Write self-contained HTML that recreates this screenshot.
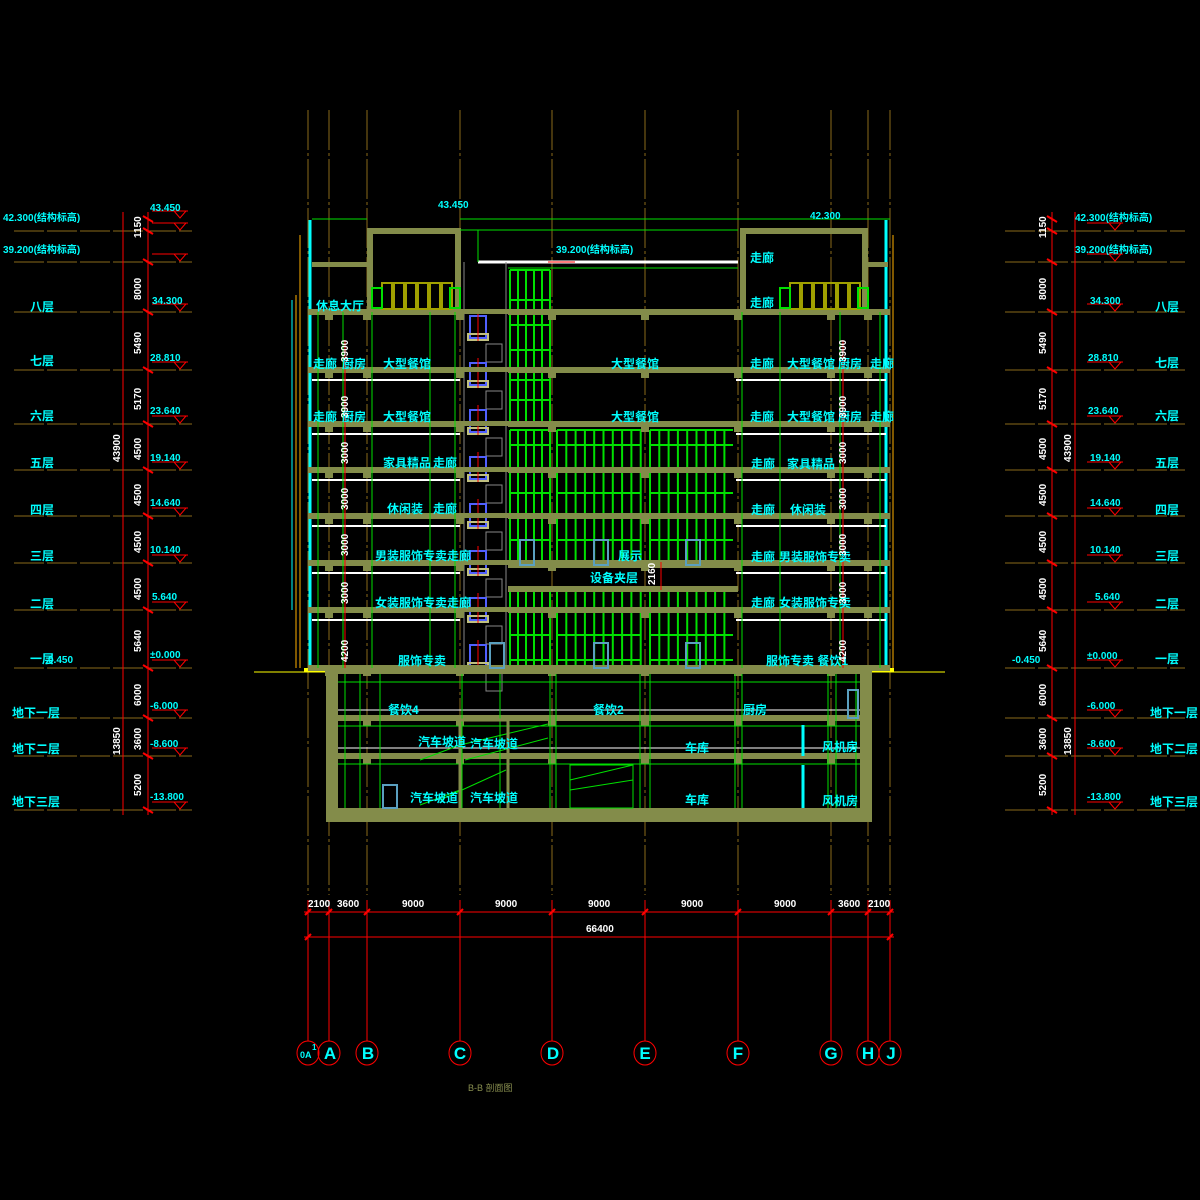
<!DOCTYPE html>
<html><head><meta charset="utf-8"><style>
html,body{margin:0;padding:0;background:#000;}
svg{display:block}
text{font-family:"Liberation Sans","Noto Sans CJK SC",sans-serif;font-weight:bold}
.c{fill:#00ffff;font-size:12px}
.w{fill:#fff;font-size:10px}
.cs{fill:#00ffff;font-size:10px}
</style></head><body>
<svg id="s" width="1200" height="1200" viewBox="0 0 1200 1200" xmlns="http://www.w3.org/2000/svg">
<rect width="1200" height="1200" fill="#000"/>
<g id="gen"></g>
<!-- left side labels -->
<text class="cs" x="150" y="211">43.450</text>
<text class="cs" x="3" y="221">42.300(结构标高)</text>
<text class="cs" x="3" y="253">39.200(结构标高)</text>
<text class="cs" x="152" y="304">34.300</text><text class="c" x="30" y="311">八层</text>
<text class="cs" x="150" y="361">28.810</text><text class="c" x="30" y="365">七层</text>
<text class="cs" x="150" y="414">23.640</text><text class="c" x="30" y="420">六层</text>
<text class="cs" x="150" y="461">19.140</text><text class="c" x="30" y="467">五层</text>
<text class="cs" x="150" y="506">14.640</text><text class="c" x="30" y="514">四层</text>
<text class="cs" x="150" y="553">10.140</text><text class="c" x="30" y="560">三层</text>
<text class="cs" x="152" y="600">5.640</text><text class="c" x="30" y="608">二层</text>
<text class="cs" x="150" y="658">±0.000</text><text class="c" x="30" y="663">一层</text><text class="cs" x="48" y="663">0.450</text>
<text class="cs" x="150" y="709">-6.000</text><text class="c" x="12" y="717">地下一层</text>
<text class="cs" x="150" y="747">-8.600</text><text class="c" x="12" y="753">地下二层</text>
<text class="cs" x="150" y="800">-13.800</text><text class="c" x="12" y="806">地下三层</text>
<!-- right side labels -->
<text class="cs" x="1075" y="221">42.300(结构标高)</text>
<text class="cs" x="1075" y="253">39.200(结构标高)</text>
<text class="cs" x="1090" y="304">34.300</text><text class="c" x="1155" y="311">八层</text>
<text class="cs" x="1088" y="361">28.810</text><text class="c" x="1155" y="367">七层</text>
<text class="cs" x="1088" y="414">23.640</text><text class="c" x="1155" y="420">六层</text>
<text class="cs" x="1090" y="461">19.140</text><text class="c" x="1155" y="467">五层</text>
<text class="cs" x="1090" y="506">14.640</text><text class="c" x="1155" y="514">四层</text>
<text class="cs" x="1090" y="553">10.140</text><text class="c" x="1155" y="560">三层</text>
<text class="cs" x="1095" y="600">5.640</text><text class="c" x="1155" y="608">二层</text>
<text class="cs" x="1087" y="659">±0.000</text><text class="c" x="1155" y="663">一层</text><text class="cs" x="1012" y="663">-0.450</text>
<text class="cs" x="1087" y="709">-6.000</text><text class="c" x="1150" y="717" textLength="48" lengthAdjust="spacingAndGlyphs">地下一层</text>
<text class="cs" x="1087" y="747">-8.600</text><text class="c" x="1150" y="753" textLength="48" lengthAdjust="spacingAndGlyphs">地下二层</text>
<text class="cs" x="1087" y="800">-13.800</text><text class="c" x="1150" y="806" textLength="48" lengthAdjust="spacingAndGlyphs">地下三层</text>
<!-- building labels -->
<text class="cs" x="438" y="208">43.450</text>
<text class="cs" x="810" y="219">42.300</text>
<text class="cs" x="556" y="253">39.200(结构标高)</text>
<text class="c" x="316" y="310">休息大厅</text>
<text class="c" x="313" y="368">走廊</text><text class="c" x="342" y="368">厨房</text><text class="c" x="383" y="368">大型餐馆</text>
<text class="c" x="313" y="421">走廊</text><text class="c" x="342" y="421">厨房</text><text class="c" x="383" y="421">大型餐馆</text>
<text class="c" x="383" y="467">家具精品</text><text class="c" x="433" y="467">走廊</text>
<text class="c" x="387" y="513">休闲装</text><text class="c" x="433" y="513">走廊</text>
<text class="c" x="375" y="560">男装服饰专卖走廊</text>
<text class="c" x="375" y="607">女装服饰专卖走廊</text>
<text class="c" x="398" y="665">服饰专卖</text>
<text class="c" x="611" y="368">大型餐馆</text>
<text class="c" x="611" y="421">大型餐馆</text>
<text class="c" x="618" y="560">展示</text>
<text class="c" x="590" y="582">设备夹层</text>
<text class="c" x="750" y="262">走廊</text><text class="c" x="750" y="307">走廊</text>
<text class="c" x="750" y="368">走廊</text><text class="c" x="787" y="368">大型餐馆</text><text class="c" x="838" y="368">厨房</text><text class="c" x="870" y="368">走廊</text>
<text class="c" x="750" y="421">走廊</text><text class="c" x="787" y="421">大型餐馆</text><text class="c" x="838" y="421">厨房</text><text class="c" x="870" y="421">走廊</text>
<text class="c" x="751" y="468">走廊</text><text class="c" x="787" y="468">家具精品</text>
<text class="c" x="751" y="514">走廊</text><text class="c" x="790" y="514">休闲装</text>
<text class="c" x="751" y="561">走廊</text><text class="c" x="779" y="561">男装服饰专卖</text>
<text class="c" x="751" y="607">走廊</text><text class="c" x="779" y="607">女装服饰专卖</text>
<text class="c" x="766" y="665">服饰专卖 餐饮1</text>
<text class="c" x="388" y="714">餐饮4</text><text class="c" x="593" y="714">餐饮2</text><text class="c" x="743" y="714">厨房</text>
<text class="c" x="418" y="746">汽车坡道</text><text class="c" x="470" y="748">汽车坡道</text><text class="c" x="685" y="752">车库</text><text class="c" x="822" y="751">风机房</text>
<text class="c" x="410" y="802">汽车坡道</text><text class="c" x="470" y="802">汽车坡道</text><text class="c" x="685" y="804">车库</text><text class="c" x="822" y="805">风机房</text>
<!-- bottom dims -->
<text class="w" x="308" y="907">2100</text><text class="w" x="337" y="907">3600</text>
<text class="w" x="402" y="907">9000</text><text class="w" x="495" y="907">9000</text><text class="w" x="588" y="907">9000</text><text class="w" x="681" y="907">9000</text><text class="w" x="774" y="907">9000</text>
<text class="w" x="838" y="907">3600</text><text class="w" x="868" y="907">2100</text>
<text class="w" x="586" y="932">66400</text>
<g font-family="Liberation Serif" font-size="17" fill="#00ffff" text-anchor="middle" style="font-weight:normal">
<text x="330" y="1059">A</text><text x="368" y="1059">B</text><text x="460" y="1059">C</text><text x="553" y="1059">D</text><text x="645" y="1059">E</text><text x="738" y="1059">F</text><text x="831" y="1059">G</text><text x="868" y="1059">H</text><text x="891" y="1059">J</text>
</g>
<text x="300" y="1058" fill="#00ffff" font-size="9">0A</text><text x="312" y="1050" fill="#00ffff" font-size="8">1</text>
<text x="468" y="1091" fill="#8a9050" font-size="9" style="font-weight:normal">B-B 剖面图</text>
<g id="vt"></g>
</svg>
<script>
var NS="http://www.w3.org/2000/svg",G=document.getElementById('gen'),VT=document.getElementById('vt');
function L(x1,y1,x2,y2,c,w,d){var e=document.createElementNS(NS,'line');e.setAttribute('x1',x1);e.setAttribute('y1',y1);e.setAttribute('x2',x2);e.setAttribute('y2',y2);e.setAttribute('stroke',c);e.setAttribute('stroke-width',w||1);if(d)e.setAttribute('stroke-dasharray',d);G.appendChild(e);}
function R(x,y,w,h,f,s,sw){var e=document.createElementNS(NS,'rect');e.setAttribute('x',x);e.setAttribute('y',y);e.setAttribute('width',w);e.setAttribute('height',h);e.setAttribute('fill',f||'none');if(s){e.setAttribute('stroke',s);e.setAttribute('stroke-width',sw||1);}G.appendChild(e);}
function T(x,y,t,c,rot,p){var e=document.createElementNS(NS,'text');e.setAttribute('x',x);e.setAttribute('y',y);e.setAttribute('fill',c||'#fff');e.setAttribute('font-size','10');if(rot)e.setAttribute('transform','rotate(-90 '+x+' '+y+')');e.textContent=t;(p||VT).appendChild(e);}
var ax=[308,329,367,460,552,645,738,831,868,890];
var lv=[219,231,262,312,370,424,470,516,563,610,668,718,756,810];
var brown='#8a6a1a',olive='#838c4a',grn='#00e000',red='#ff0000';
lv.slice(1).forEach(function(y){L(14,y,192,y,brown,1,'30 3');L(1005,y,1185,y,brown,1,'30 3');});
L(123,212,123,815,red,1);L(148,212,148,815,red,1);L(1052,212,1052,815,red,1);L(1075,212,1075,815,red,1);
lv.forEach(function(y){L(143,y-3,153,y+3,red,2);L(1047,y-3,1057,y+3,red,2);});
[[152,219],[152,231],[152,262],[152,312],[152,370],[152,424],[152,470],[152,516],[152,563],[152,610],[152,668],[152,718],[152,756],[152,810],[1087,231],[1087,262],[1087,312],[1087,370],[1087,424],[1087,470],[1087,516],[1087,563],[1087,610],[1087,668],[1087,718],[1087,756],[1087,810]].forEach(function(p){var e=document.createElementNS(NS,'path');e.setAttribute('d','M'+p[0]+' '+(p[1]-8)+'h36M'+(p[0]+22)+' '+(p[1]-8)+'l6 7l6 -7');e.setAttribute('stroke',red);e.setAttribute('fill','none');G.appendChild(e);});
var dims=[['1150',225],['8000',287],['5490',341],['5170',397],['4500',447],['4500',493],['4500',540],['4500',587],['5640',639],['6000',693],['3600',737],['5200',783]];
dims.forEach(function(d){T(141,d[1]+13,d[0],'#fff',1);T(1046,d[1]+13,d[0],'#fff',1);});
T(120,462,'43900','#fff',1);T(120,755,'13850','#fff',1);T(1071,462,'43900','#fff',1);T(1071,755,'13850','#fff',1);
ax.forEach(function(x){L(x,110,x,895,brown,1,'40 3 3 3');});
L(254,672,326,672,'#ffff00',1);L(872,672,945,672,'#ffff00',1);
R(304,668,22,4,'#ffff00');R(872,668,22,4,'#ffff00');
L(310,220,310,668,'#00ffff',3);L(886,220,886,668,'#00ffff',3);
L(300,235,300,668,'#ffb000',1);L(296,295,296,668,'#ffb000',1);L(292,300,292,610,'#00ffff',1);L(893,235,893,668,'#ffb000',1);
function grid(x1,x2,y1,y2,sx,rows){for(var x=x1;x<=x2;x+=sx)L(x,y1,x,y2,grn,2);rows.forEach(function(y){L(x1,y,x2,y,grn,2);});}
grid(510,550,430,562,8,[430,445,470,493,516,540,562]);
grid(557,641,430,562,9.3,[430,445,470,493,516,540,562]);
grid(650,733,430,562,9.3,[430,445,470,493,516,540,562]);
grid(510,550,590,668,8,[590,610,635,660]);
grid(557,641,590,668,9.3,[590,610,635,660]);
grid(650,733,590,668,9.3,[590,610,635,660]);
grid(510,550,270,424,8,[270,300,325,350,380,400]);
L(508,268,738,268,grn,1);L(478,262,738,262,'#fff',3);
for(var i=0;i<8;i++){var y=316+i*47;R(470,y,16,22,'none','#5060ff',2);R(468,y+18,20,6,'none','#c0c080',2);R(486,y+28,16,18,'none','#888',1);L(478,y-5,478,y+25,red,1);}
L(464,262,464,668,'#888',1);L(506,262,506,668,'#888',1);
[312,370,424,470,516,563,610,668].forEach(function(y){R(308,y-3,152,6,olive);R(460,y-3,48,5,olive);R(508,y-3,230,6,olive);R(736,y-3,154,6,olive);
 [329,367,460,552,645,738,831,868].forEach(function(x){R(x-4,y,8,8,olive);});});
[370,424,470,516,563,610].forEach(function(y){L(312,y+10,460,y+10,'#fff',2);L(736,y+10,886,y+10,'#fff',2);});
R(508,562,230,6,olive);R(508,586,230,6,olive);
R(367,228,93,6,olive);R(367,228,6,84,olive);R(455,228,6,84,olive);R(740,228,128,6,olive);R(740,228,6,84,olive);R(862,228,6,84,olive);
R(312,262,55,5,olive);R(868,262,20,5,olive);L(460,219,890,219,grn,1);L(312,219,367,219,grn,1);
L(478,230,478,262,grn,1);L(460,230,738,230,grn,1);
[[372,288],[780,288]].forEach(function(p){for(var k=0;k<6;k++)R(p[0]+10+k*12,p[1]-5,10,26,'none','#a0a000',2);R(p[0],p[1],10,20,'none',grn,2);R(p[0]+78,p[1],10,20,'none',grn,2);});
[318,343,372,430,455,742,780,840,880].forEach(function(x){L(x,312,x,668,grn,1);});
R(326,668,12,154,olive);R(860,668,12,154,olive);R(326,808,546,14,olive);
[718,756].forEach(function(y){R(338,y-3,522,6,olive);[367,460,552,645,738,831].forEach(function(x){R(x-4,y,8,8,olive);});L(338,y-8,860,y-8,'#fff',1);});
R(338,668,522,6,olive);
[345,360,380,462,500,550,556,640,650,735,742,828,836,856].forEach(function(x){L(x,674,x,808,grn,1);});
[682,726,764].forEach(function(y){L(338,y,860,y,grn,1);});
L(420,760,460,745,grn,1);L(460,745,548,724,grn,1);L(465,760,548,738,grn,1);L(570,780,633,765,grn,1);L(570,790,633,780,grn,1);R(570,765,63,43,'none',grn,1);
L(420,805,460,790,grn,1);L(440,800,506,770,grn,1);
R(460,720,48,90,'none',olive,3);
L(803,725,803,756,'#00ffff',3);L(803,765,803,808,'#00ffff',3);
R(383,785,14,23,'none','#5aa0c0',2);R(848,690,10,28,'none','#5aa0c0',2);
[[520,540],[594,540],[686,540],[490,643],[594,643],[686,643]].forEach(function(p){R(p[0],p[1],14,25,'none','#5aa0c0',2);});
[[345,340,420],[345,395,470],[345,440,516],[345,486,563],[345,533,610],[345,580,668],[843,340,424],[843,395,470],[843,440,516],[843,486,563],[843,533,610],[843,580,668],[661,562,590]].forEach(function(d){L(d[0],d[1],d[0],d[2],red,1);});
[['3900',340],['3900',396],['3000',442],['3000',488],['3000',534],['3000',582],['4200',640]].forEach(function(d){T(348,d[1]+22,d[0],'#fff',1);T(846,d[1]+22,d[0],'#fff',1);});
T(655,585,'2160','#fff',1);
L(548,262,575,262,red,1);
L(304,912,894,912,red,1);L(304,937,894,937,red,1);
ax.forEach(function(x){L(x,900,x,1041,red,1);L(x-3,915,x+3,909,red,2);
 var c=document.createElementNS(NS,'ellipse');c.setAttribute('cx',x);c.setAttribute('cy',1053);c.setAttribute('rx',11);c.setAttribute('ry',12);c.setAttribute('fill','none');c.setAttribute('stroke',red);G.appendChild(c);});
L(305,940,311,934,red,2);L(887,940,893,934,red,2);
</script>
</body></html>
